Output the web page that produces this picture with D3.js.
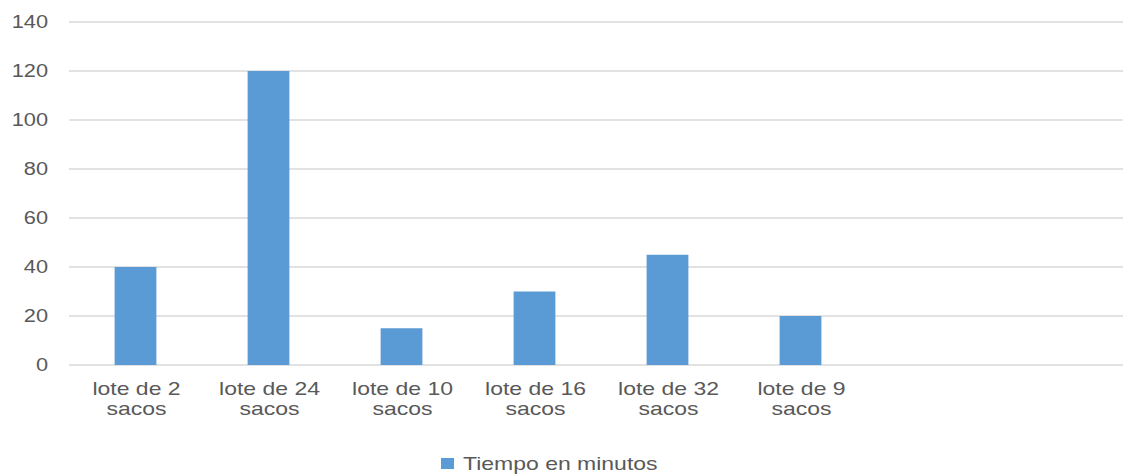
<!DOCTYPE html>
<html>
<head>
<meta charset="utf-8">
<script src="https://cdn.jsdelivr.net/npm/d3@7"></script>
<style>
  html, body { margin: 0; padding: 0; background: #fff; }
  text { font-family: "Liberation Sans", Arial, sans-serif; fill: #595959; }
</style>
</head>
<body>
<svg id="chart" width="1123" height="475"></svg>
<script>
// Batch sizes and processing time per batch
const categories = [
  ["lote de 2", "sacos"],
  ["lote de 24", "sacos"],
  ["lote de 10", "sacos"],
  ["lote de 16", "sacos"],
  ["lote de 32", "sacos"],
  ["lote de 9", "sacos"]
];
const seriesName = "Tiempo en minutos";
const values = [40, 120, 15, 30, 45, 20];
const yTicks = [0, 20, 40, 60, 80, 100, 120, 140];

(function () {
  const svg = d3.select("#chart");
  const W = 1123;
  const plotLeft = 69, plotTop = 22, plotBottom = 365;
  const step = 133;
  const stretch = "scale(1.21,1)"; // text is drawn horizontally widened

  const keys = categories.map(c => c.join(" "));
  const x = d3.scaleBand()
    .domain(keys)
    .range([plotLeft, plotLeft + step * keys.length])
    .paddingInner(0.686)
    .paddingOuter(0.343);

  const y = d3.scaleLinear().domain([0, 140]).range([plotBottom, plotTop]);

  // Horizontal gridlines
  svg.append("g")
    .selectAll("line")
    .data(yTicks)
    .join("line")
    .attr("x1", plotLeft)
    .attr("x2", W)
    .attr("y1", d => y(d))
    .attr("y2", d => y(d))
    .attr("stroke", "#d9d9d9")
    .attr("stroke-width", 1.5);

  // Y axis labels
  const yAxis = d3.axisLeft(y).tickValues(yTicks).tickSize(0).tickPadding(0);
  const yg = svg.append("g").attr("transform", "translate(48,0)").call(yAxis);
  yg.select(".domain").remove();
  yg.selectAll("text")
    .attr("font-size", 18)
    .attr("fill", "#595959")
    .attr("transform", stretch)
    .style("font-family", "Liberation Sans, Arial, sans-serif");

  // Bars
  svg.append("g")
    .selectAll("rect")
    .data(values)
    .join("rect")
    .attr("x", (d, i) => x(keys[i]))
    .attr("width", x.bandwidth())
    .attr("y", d => y(d))
    .attr("height", d => y(0) - y(d))
    .attr("fill", "#5b9bd5");

  // Category labels (two lines)
  const xAxis = d3.axisBottom(x).tickSize(0).tickFormat(() => "");
  const xg = svg.append("g").attr("transform", `translate(0,${plotBottom})`).call(xAxis);
  xg.select(".domain").remove();
  xg.selectAll(".tick").each(function (d, i) {
    const t = d3.select(this).append("text")
      .attr("text-anchor", "middle")
      .attr("font-size", 19)
      .attr("fill", "#595959")
      .attr("transform", `translate(1,0) ${stretch}`);
    categories[i].forEach((line, j) => {
      t.append("tspan").attr("x", 0).attr("y", 30 + j * 20).text(line);
    });
  });

  // Legend
  const legend = svg.append("g").attr("transform", "translate(441,458)");
  legend.append("rect").attr("width", 13).attr("height", 11).attr("fill", "#5b9bd5");
  legend.append("text")
    .attr("transform", `translate(22,0) ${stretch}`)
    .attr("y", 12)
    .attr("font-size", 19)
    .text(seriesName);
})();
</script>
</body>
</html>
